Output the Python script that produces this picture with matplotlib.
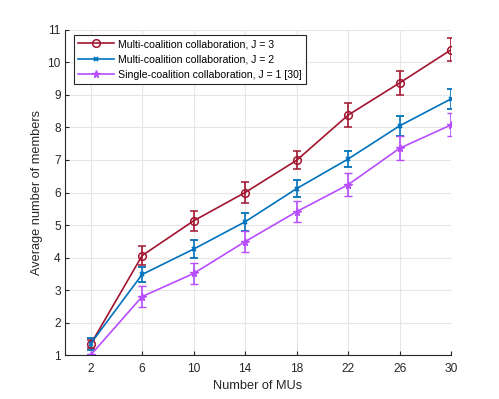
import matplotlib
matplotlib.use("Agg")
import matplotlib.pyplot as plt
from matplotlib.lines import Line2D

plt.rcParams['font.family'] = ['Liberation Sans', 'DejaVu Sans']

mus = [2, 6, 10, 14, 18, 22, 26, 30]
j3 = [1.33, 4.06, 5.13, 6.00, 6.99, 8.38, 9.37, 10.39]
j3_err = [0.12, 0.30, 0.30, 0.31, 0.28, 0.37, 0.36, 0.36]
j2 = [1.35, 3.48, 4.26, 5.10, 6.12, 7.03, 8.05, 8.88]
j2_err = [0.18, 0.22, 0.28, 0.27, 0.27, 0.26, 0.30, 0.30]
j1 = [1.00, 2.80, 3.51, 4.49, 5.41, 6.24, 7.36, 8.08]
j1_err = [0.0, 0.31, 0.31, 0.32, 0.33, 0.36, 0.37, 0.35]

labels = ["Multi-coalition collaboration, J = 3",
          "Multi-coalition collaboration, J = 2",
          "Single-coalition collaboration, J = 1 [30]"]
colors = ["#A2142F", "#0072BD", "#B84DFF"]
xticks = [2, 6, 10, 14, 18, 22, 26, 30]
yticks = list(range(1, 12))

fig = plt.figure(figsize=(4.99, 3.99), dpi=100)
ax = fig.add_axes([0.130, 0.110, 0.774, 0.815])

styles = [
    dict(marker='o', markersize=5.5, markerfacecolor='none', markeredgewidth=1.1),
    dict(marker='x', markersize=3.5, markeredgewidth=1.3),
    dict(marker='*', markersize=5.5, markeredgewidth=1.0),
]
series = [(j3, j3_err), (j2, j2_err), (j1, j1_err)]
handles = []
for (vals, errs), c, st, lab in zip(series, colors, styles, labels):
    ax.errorbar(mus, vals, yerr=errs, color=c, lw=1.2, capsize=2.7,
                elinewidth=1.2, capthick=1.2, **st)
    handles.append(Line2D([], [], color=c, lw=1.2, **st))

ax.set_xlim(0, 30)
ax.set_ylim(1, 11)
ax.set_xticks(xticks)
ax.set_yticks(yticks)
ax.grid(True, color='#e6e6e6', lw=0.8)
ax.set_axisbelow(True)
for s in ['top', 'right']:
    ax.spines[s].set_visible(False)
for s in ['left', 'bottom']:
    ax.spines[s].set_color('#262626')
    ax.spines[s].set_linewidth(0.8)
ax.tick_params(direction='in', length=3, width=0.8, colors='#262626',
               labelsize=8.6)
ax.tick_params(axis='x', pad=6)
ax.tick_params(axis='y', pad=3)
ax.set_xlabel("Number of MUs", fontsize=9.2, color='#262626', labelpad=3)
ax.set_ylabel("Average number of members", fontsize=9.2, color='#262626',
              labelpad=3)

leg = ax.legend(handles, labels, loc='upper left',
                bbox_to_anchor=(0.023, 0.985), borderaxespad=0,
                fontsize=7.6, frameon=True, fancybox=False,
                edgecolor='#262626', framealpha=1, borderpad=0.4,
                labelspacing=0.5, handlelength=3.4, handletextpad=0.4)
leg.get_frame().set_linewidth(0.8)

fig.savefig("out.png", dpi=100)
